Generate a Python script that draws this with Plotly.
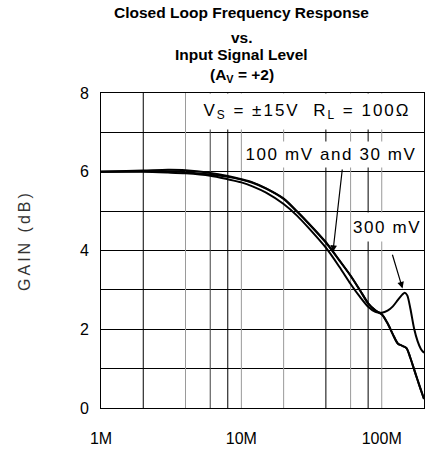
import numpy as np
import plotly.graph_objects as go

# ---- measured response (frequency in MHz, gain in dB) -----------------
freq_100mv_mhz = [1, 2, 3, 4, 6, 8, 10, 12, 15, 20, 25, 30, 40, 50, 60, 70,
                  80, 90, 100, 110, 120, 130, 140, 150, 160, 170, 180, 190, 200]
gain_100mv_db = [6.00, 6.01, 6.01, 5.99, 5.93, 5.87, 5.80, 5.72, 5.57, 5.31,
                 4.98, 4.69, 4.20, 3.74, 3.36, 2.99, 2.66, 2.48, 2.38, 2.15,
                 1.87, 1.64, 1.58, 1.52, 1.27, 0.98, 0.71, 0.46, 0.23]

freq_30mv_mhz = [1, 2, 3, 4, 6, 8, 10, 12, 15, 20, 25, 30, 40, 50, 60, 70,
                 80, 90, 100, 110, 120, 130, 140, 150, 160, 170, 180, 190, 200]
gain_30mv_db = [6.00, 6.03, 6.05, 6.04, 5.97, 5.89, 5.81, 5.73, 5.58, 5.32,
                4.99, 4.70, 4.21, 3.75, 3.36, 2.99, 2.66, 2.48, 2.38, 2.15,
                1.87, 1.64, 1.58, 1.52, 1.27, 0.98, 0.71, 0.46, 0.23]

freq_300mv_mhz = [1, 2, 3, 4, 6, 8, 10, 12, 15, 20, 25, 30, 40, 50, 60, 70,
                  80, 90, 100, 110, 120, 130, 140, 146, 152, 160, 170, 180,
                  190, 200]
gain_300mv_db = [6.00, 6.00, 5.98, 5.96, 5.90, 5.81, 5.73, 5.63, 5.47, 5.18,
                 4.88, 4.58, 4.07, 3.58, 3.15, 2.82, 2.57, 2.44, 2.42, 2.47,
                 2.58, 2.74, 2.88, 2.93, 2.86, 2.52, 2.02, 1.70, 1.50, 1.40]

x_tick_mhz = [1, 10, 100]
x_tick_text = ["1M", "10M", "100M"]
y_tick_vals = [0, 2, 4, 6, 8]
y_tick_text = ["0", "2", "4", "6", "8"]

# ---- layout constants ---------------------------------------------------
W, H = 434, 456
ML, MR, MT, MB = 101, 9, 93, 41
PW, PH = W - ML - MR, H - MT - MB
F_MIN, F_MAX = 1e6, 2e8

GRID_DARK_MHZ = [2, 8, 40, 80]
GRID_MID_MHZ = [6]
GRID_LIGHT_MHZ = [4, 10, 20, 60, 100]

TITLE_FONT = dict(family="Liberation Sans, Arial, sans-serif", size=15.5, color="black")
LABEL_FAMILY = "Liberation Sans, Arial, sans-serif"


def hz(mhz):
    return [m * 1e6 for m in mhz]


def px_x(px):
    return (px - ML) / PW


def px_y(py):
    return (H - MB - py) / PH


def spaced(text, gap):
    return f'<span style="letter-spacing:{gap}px">{text}</span>'


def grid_trace(freqs_mhz, color):
    xs, ys = [], []
    for f in hz(freqs_mhz):
        xs += [f, f, None]
        ys += [0, 8, None]
    return go.Scatter(x=xs, y=ys, mode="lines", hoverinfo="skip",
                      line=dict(color=color, width=1))


fig = go.Figure()
fig.add_trace(grid_trace(GRID_LIGHT_MHZ, "#9a9a9a"))
fig.add_trace(grid_trace(GRID_MID_MHZ, "#404040"))
fig.add_trace(grid_trace(GRID_DARK_MHZ, "#000000"))

for freqs, gains in [(freq_300mv_mhz, gain_300mv_db),
                     (freq_30mv_mhz, gain_30mv_db),
                     (freq_100mv_mhz, gain_100mv_db)]:
    fig.add_trace(go.Scatter(x=hz(freqs), y=gains, mode="lines",
                             line=dict(color="black", width=2,
                                       shape="spline", smoothing=0.8)))


def on_curve(freqs_mhz, gains, f_mhz):
    return float(np.interp(np.log10(f_mhz), np.log10(freqs_mhz), gains))


annotations = []

# title block
for text, cy in [("Closed Loop Frequency Response", 11),
                 ("vs.", 36),
                 ("Input Signal Level", 54),
                 ("(A<sub>V</sub> = +2)", 75)]:
    annotations.append(dict(text=f"<b>{text}</b>", xref="paper", yref="paper",
                            x=px_x(242), y=px_y(cy), xanchor="center",
                            yanchor="middle", showarrow=False, font=TITLE_FONT))

# y-axis title
annotations.append(dict(text=spaced("GAIN (dB)", 3), xref="paper", yref="paper",
                        x=px_x(24), y=px_y(244), textangle=-90,
                        showarrow=False, xanchor="center", yanchor="middle",
                        font=dict(family=LABEL_FAMILY, size=16, color="#333333")))

# condition / curve labels on white boxes
label_font = dict(family=LABEL_FAMILY, size=17, color="black")
for text, cx, cy, w, h in [
        (spaced("V<sub>S</sub> = ±15V  R<sub>L</sub> = 100Ω", 2), 308, 112, 224, 35),
        (spaced("100 mV and 30 mV", 1.6), 332, 155.5, 176, 25),
        (spaced("300 mV", 1.6), 387.5, 230, 68, 28)]:
    annotations.append(dict(text=text, xref="paper", yref="paper",
                            x=px_x(cx), y=px_y(cy), xanchor="center",
                            yanchor="middle", width=w, height=h,
                            bgcolor="white", borderpad=0, showarrow=False,
                            font=label_font))

# arrows from the labels to the curves
f_a = 44.9
annotations.append(dict(x=np.log10(f_a * 1e6),
                        y=on_curve(freq_100mv_mhz, gain_100mv_db, f_a),
                        xref="x", yref="y", text="", showarrow=True,
                        arrowhead=2, arrowsize=1.1, arrowwidth=1.2,
                        arrowcolor="black", ax=9.5, ay=-84, standoff=0))
f_b = 144
annotations.append(dict(x=np.log10(f_b * 1e6),
                        y=on_curve(freq_300mv_mhz, gain_300mv_db, f_b),
                        xref="x", yref="y", text="", showarrow=True,
                        arrowhead=2, arrowsize=1.1, arrowwidth=1.2,
                        arrowcolor="black", ax=-12, ay=-40, standoff=5))

tick_font = dict(family=LABEL_FAMILY, size=16, color="black")

fig.update_layout(
    width=W, height=H,
    margin=dict(l=ML, r=MR, t=MT, b=MB),
    paper_bgcolor="white", plot_bgcolor="white",
    showlegend=False,
    annotations=annotations,
    xaxis=dict(type="log", range=[np.log10(F_MIN), np.log10(F_MAX)],
               tickmode="array", tickvals=hz(x_tick_mhz), ticktext=x_tick_text,
               showgrid=False, zeroline=False, showline=True, mirror=True,
               linecolor="black", linewidth=1, ticks="",
               tickfont=tick_font, ticklabelstandoff=16),
    yaxis=dict(range=[0, 8], tickmode="array", tickvals=y_tick_vals,
               ticktext=y_tick_text, showgrid=True, gridcolor="black",
               gridwidth=1, zeroline=False, showline=True, mirror=True,
               linecolor="black", linewidth=1, ticks="",
               minor=dict(dtick=1, showgrid=True, gridcolor="black",
                          gridwidth=1, ticks=""),
               tickfont=tick_font, ticklabelstandoff=8),
)

fig.write_html("out.html")
